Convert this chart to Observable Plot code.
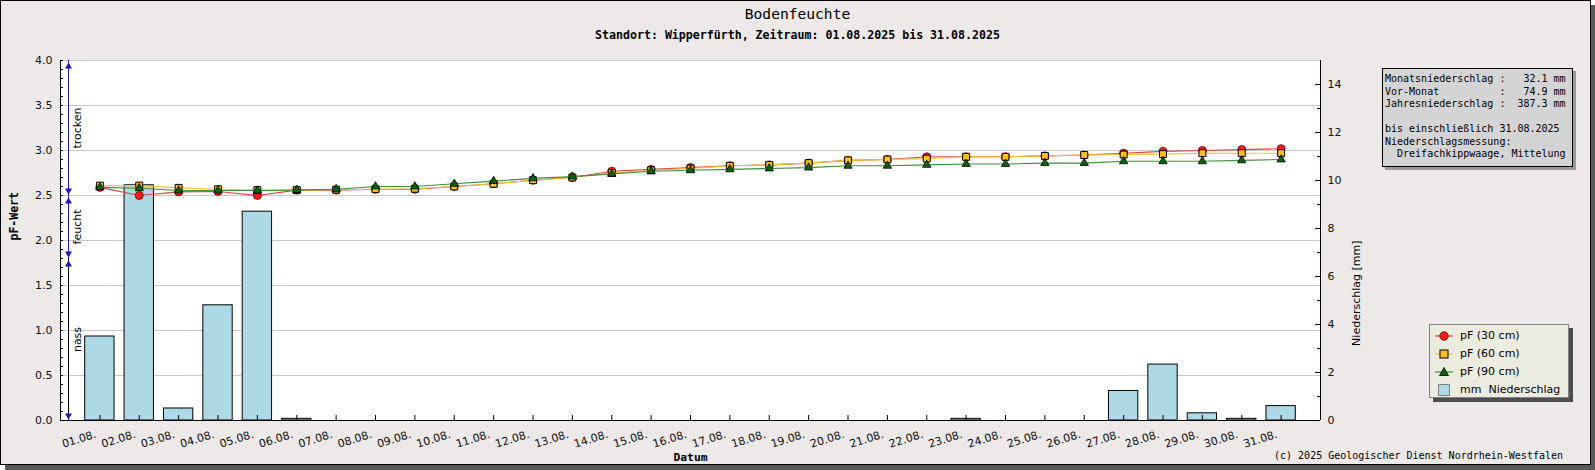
<!DOCTYPE html>
<html>
<head>
<meta charset="utf-8">
<script src="https://cdn.jsdelivr.net/npm/d3@7"></script>
<script src="https://cdn.jsdelivr.net/npm/@observablehq/plot@0.6"></script>
<style>
  body { margin: 0; background: #ffffff; }
  #frame { position: absolute; left: 0; top: 0; width: 1589px; height: 463px; border: 1px solid #000;
           background: #ece9e8; box-shadow: 5px 5px 0 #595959; }
  #chart { position: absolute; left: 0; top: 0; }
  .mono { font-family: "DejaVu Sans Mono", monospace; color: #000; }
  #title { position: absolute; left: 0; width: 1595px; text-align: center; top: 5px; font-size: 14.6px; line-height: 18px; }
  #subtitle { position: absolute; left: 0; width: 1595px; text-align: center; top: 27px; font-size: 11.6px; font-weight: bold; line-height: 16px; }
  #info { position: absolute; left: 1382px; top: 68px; width: 187px; height: 93px; border: 1px solid #000;
          background: #d4d4d4; box-shadow: 3px 3px 0 #9a9a9a; padding: 4px 0 0 2px; box-sizing: content-box;
          font-size: 10px; line-height: 12.5px; white-space: pre; }
  #legend { position: absolute; left: 1429px; top: 324px; width: 138px; height: 72px; border: 1px solid #808080;
            background: #ecebe0; box-shadow: 4px 4px 0 #4d4d4d; font-family: "DejaVu Sans", sans-serif; font-size: 11px; color: #000; }
  .lrow { position: absolute; left: 0; height: 18px; width: 138px; }
  .lrow svg { position: absolute; left: 2px; top: 0; }
  .lrow span { position: absolute; left: 30px; top: 2px; line-height: 14px; white-space: pre; }
  #copy { position: absolute; right: 32px; top: 449px; font-size: 10px; line-height: 13px; white-space: pre; }
</style>
</head>
<body>
<div id="frame"></div>
<div id="chart"></div>
<div id="title" class="mono">Bodenfeuchte</div>
<div id="subtitle" class="mono">Standort: Wipperfürth, Zeitraum: 01.08.2025 bis 31.08.2025</div>
<div id="info" class="mono"></div>
<div id="legend"></div>
<div id="copy" class="mono">(c) 2025 Geologischer Dienst Nordrhein-Westfalen</div>
<script>
// ---------- data ----------
const days = d3.range(1, 32);
const dayLabels = days.map(d => `${String(d).padStart(2, "0")}.08.`);

const pf30 = [2.59, 2.50, 2.54, 2.545, 2.50, 2.56, 2.56, 2.57, 2.57, 2.60,
              2.63, 2.67, 2.70, 2.77, 2.79, 2.81, 2.83, 2.84, 2.86, 2.89,
              2.90, 2.93, 2.93, 2.93, 2.94, 2.95, 2.97, 2.99, 3.00, 3.01, 3.02];
const pf60 = [2.61, 2.61, 2.585, 2.57, 2.56, 2.56, 2.565, 2.57, 2.575, 2.60,
              2.63, 2.67, 2.70, 2.75, 2.78, 2.80, 2.83, 2.84, 2.86, 2.89,
              2.90, 2.91, 2.93, 2.93, 2.94, 2.95, 2.955, 2.96, 2.97, 2.97, 2.97];
const pf90 = [2.59, 2.58, 2.555, 2.555, 2.555, 2.56, 2.57, 2.60, 2.60, 2.63,
              2.66, 2.69, 2.71, 2.74, 2.77, 2.78, 2.79, 2.80, 2.81, 2.83,
              2.83, 2.84, 2.85, 2.85, 2.86, 2.86, 2.88, 2.88, 2.88, 2.89, 2.90];
const rainMm = [3.5, 9.8, 0.5, 4.8, 8.7, 0.07, 0, 0, 0, 0,
                0, 0, 0, 0, 0, 0, 0, 0, 0, 0,
                0, 0, 0.07, 0, 0, 0, 1.23, 2.33, 0.3, 0.07, 0.6];

const leftTicks = [0, 0.5, 1.0, 1.5, 2.0, 2.5, 3.0, 3.5, 4.0];
const rightTicks = [0, 2, 4, 6, 8, 10, 12, 14];
const leftMax = 4, rightMax = 15, xMax = 32;

const zoneNames = ["trocken", "feucht", "nass"];
const zoneTop = [4.0, 2.5, 1.8];
const zoneBottom = [2.5, 1.8, 0.0];

const seriesNames = ["pF (30 cm)", "pF (60 cm)", "pF (90 cm)", "mm  Niederschlag"];

const infoLines = [
  "Monatsniederschlag :   32.1 mm",
  "Vor-Monat          :   74.9 mm",
  "Jahresniederschlag :  387.3 mm",
  "",
  "bis einschließlich 31.08.2025",
  "Niederschlagsmessung:",
  "  Dreifachkippwaage, Mittelung"
];

// ---------- derived tables ----------
const mmToPf = mm => mm * leftMax / rightMax;
const table = days.map((d, i) => ({day: d, label: dayLabels[i], pf30: pf30[i], pf60: pf60[i], pf90: pf90[i], rain: rainMm[i]}));
const zones = zoneNames.map((n, i) => ({name: n, top: zoneTop[i], bottom: zoneBottom[i], mid: (zoneTop[i] + zoneBottom[i]) / 2}));
const leftMinor = d3.range(0, 41, 1).map(v => v / 10);
const rightMinor = d3.range(1, 15, 2).map(mmToPf);
const rightMajor = rightTicks.map(mmToPf);

const RED = "#ff1a1a", REDLINE = "#dd4444";
const YEL = "#ffbf1f", YELLINE = "#f2c233";
const GRN = "#0b640b", GRNLINE = "#3c8c3c";
const ZONE = "#1a1aa6";

const plot = Plot.plot({
  width: 1595,
  height: 470,
  marginLeft: 60,
  marginRight: 275,
  marginTop: 60,
  marginBottom: 50,
  x: {type: "linear", domain: [0, xMax], axis: null},
  y: {domain: [0, leftMax], axis: null},
  style: {fontFamily: "DejaVu Sans, sans-serif", fontSize: "11px", background: "transparent", overflow: "visible", color: "#000"},
  marks: [
    Plot.frame({fill: "white"}),
    Plot.gridY(leftTicks.filter(t => t > 0), {stroke: "#c8c8c8", strokeOpacity: 1}),
    // precipitation bars (right scale converted into left units)
    Plot.rectY(table.filter(d => d.rain > 0), {
      x1: d => d.day - 0.5, x2: d => d.day + 0.5, y1: d => 0, y2: d => mmToPf(d.rain),
      insetLeft: 5, insetRight: 5, fill: "#add8e6", stroke: "#000", strokeWidth: 1
    }),
    // axis lines
    Plot.ruleX([0, xMax], {stroke: "#000"}),
    Plot.ruleY([0], {stroke: "#000"}),
    // left axis: inward ticks + labels
    Plot.ruleY(leftMinor, {x1: d => 0, x2: d => 0, insetRight: -3, stroke: "#000"}),
    Plot.text(leftTicks, {y: d => d, frameAnchor: "left", text: d3.format(".1f"), textAnchor: "end", dx: -8, fontSize: 11, fill: "#111"}),
    // right axis: inward ticks + labels
    Plot.ruleY(rightMinor, {x1: d => xMax, x2: d => xMax, insetLeft: -3, stroke: "#000"}),
    Plot.ruleY(rightMajor, {x1: d => xMax, x2: d => xMax, insetLeft: -5, stroke: "#000"}),
    Plot.text(rightMajor, {y: d => d, frameAnchor: "right", text: v => String(Math.round(v * rightMax / leftMax)), textAnchor: "start", dx: 7, fontSize: 11, fill: "#111"}),
    // bottom axis: inward ticks + rotated labels
    Plot.ruleX(days, {y1: d => 0, y2: d => 0, insetTop: -5, stroke: "#000"}),
    Plot.text(table, {x: "day", text: "label", frameAnchor: "bottom", rotate: -17, textAnchor: "end", lineAnchor: "bottom", dx: -3, dy: 17, fontSize: 11, fill: "#111"}),
    // zone annotations
    Plot.ruleX(zones, {x: d => 0, y1: "bottom", y2: "top", dx: 8, stroke: d => d.name === "nass" ? "#000" : ZONE}),
    Plot.dot(zones, {x: d => 0, y: "top", symbol: "triangle", r: 2.6, fill: ZONE, stroke: "none", dx: 8, dy: 6}),
    Plot.dot(zones, {x: d => 0, y: "bottom", symbol: "triangle", rotate: 180, r: 2.6, fill: ZONE, stroke: "none", dx: 8, dy: -5}),
    Plot.text(zones, {x: d => 0, y: "mid", text: "name", rotate: -90, dx: 17, fontSize: 11, fill: "#000"}),
    // soil moisture lines
    Plot.line(table, {x: "day", y: "pf30", stroke: REDLINE, strokeWidth: 1.1}),
    Plot.dot(table, {x: "day", y: "pf30", symbol: "circle", r: 4, fill: RED, stroke: "#5a0000", strokeWidth: 0.8}),
    Plot.line(table, {x: "day", y: "pf60", stroke: YELLINE, strokeWidth: 1.1}),
    Plot.dot(table, {x: "day", y: "pf60", symbol: "square", r: 3.9, fill: YEL, stroke: "#000", strokeWidth: 1}),
    Plot.line(table, {x: "day", y: "pf90", stroke: GRNLINE, strokeWidth: 1.1}),
    Plot.dot(table, {x: "day", y: "pf90", symbol: "triangle", r: 3.1, fill: GRN, stroke: "#000", strokeWidth: 0.8}),
    // axis titles
    Plot.text(["pF-Wert"], {frameAnchor: "left", rotate: -90, dx: -46, fontFamily: "DejaVu Sans Mono", fontWeight: "bold", fontSize: 11.5, fill: "#000"}),
    Plot.text(["Niederschlag [mm]"], {frameAnchor: "right", rotate: -90, dx: 36, fontSize: 11, fill: "#000"}),
    Plot.text(["Datum"], {frameAnchor: "bottom", dy: 40, fontFamily: "DejaVu Sans Mono", fontWeight: "bold", fontSize: 11.3, fill: "#000"})
  ]
});
document.getElementById("chart").appendChild(plot);

// info box
document.getElementById("info").textContent = infoLines.join("\n");

// legend
const legend = document.getElementById("legend");
const symbolSvg = [
  `<svg width="22" height="18"><line x1="3" y1="9" x2="21" y2="9" stroke="${REDLINE}" stroke-width="1.2"/><circle cx="12" cy="9" r="4.2" fill="${RED}" stroke="#5a0000" stroke-width="0.8"/></svg>`,
  `<svg width="22" height="18"><line x1="3" y1="9" x2="21" y2="9" stroke="${YELLINE}" stroke-width="1.2"/><rect x="8" y="5" width="8" height="8" fill="${YEL}" stroke="#000"/></svg>`,
  `<svg width="22" height="18"><line x1="3" y1="9" x2="21" y2="9" stroke="${GRNLINE}" stroke-width="1.2"/><path d="M12,4.5 L16.5,12.5 L7.5,12.5 Z" fill="${GRN}" stroke="#000" stroke-width="0.8"/></svg>`,
  `<svg width="22" height="18"><rect x="6.5" y="3.5" width="11" height="11" fill="#add8e6" stroke="#808080"/></svg>`
];
seriesNames.forEach((name, i) => {
  const row = document.createElement("div");
  row.className = "lrow";
  row.style.top = (2 + i * 18.1) + "px";
  row.innerHTML = symbolSvg[i] + `<span></span>`;
  row.querySelector("span").textContent = name;
  legend.appendChild(row);
});
</script>
</body>
</html>
